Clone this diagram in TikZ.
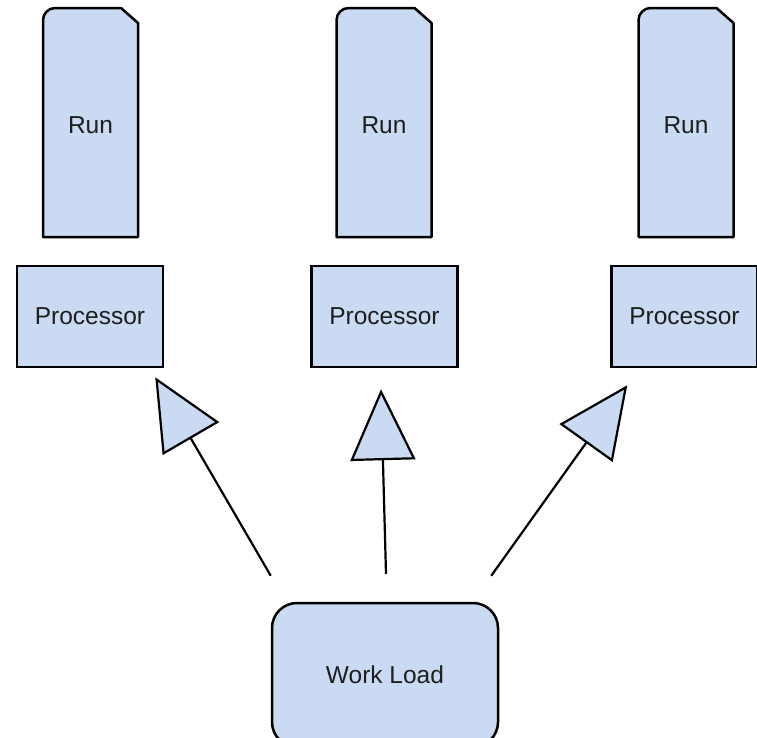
\documentclass[tikz,border=0pt]{standalone}
\usepackage{fontspec}
\setmainfont{Liberation Sans}
\usetikzlibrary{arrows.meta}
\definecolor{boxblue}{RGB}{201,218,242}
\definecolor{inkgray}{RGB}{30,30,30}

\begin{document}
\begin{tikzpicture}[x=1pt,y=-1pt,
    label font/.style={text=inkgray,font=\fontsize{24.5}{29}\selectfont},
    box/.style={shape=rectangle,draw=black,fill=boxblue,line width=2.5pt,inner sep=0pt,label font},
    procbox/.style={box,minimum width=146pt,minimum height=101pt},
    loadbox/.style={box,rounded corners=25pt,minimum width=226pt,minimum height=144pt},
    runline/.style={draw=black,fill=boxblue,line width=2.5pt,line join=round},
    runtext/.style={shape=rectangle,inner sep=0pt,label font},
    feed/.style={line width=2.2pt,arrows={-Triangle[length=71pt,width=65pt,fill=boxblue]}}]
    \path[use as bounding box,clip] (0,0) rectangle (757,737);
    % runs
    \foreach \x/\name in {90.5/r1,384/r2,686/r3}{
        \draw[runline] (\x-47.5,237) -- (\x-47.5,20)
            .. controls (\x-47.5,13.4) and (\x-41.9,8) .. (\x-35.5,8)
            -- (\x+30.5,8) -- (\x+47.5,23) -- (\x+47.5,237) -- cycle;
        \node[runtext] (\name) at (\x,125) {Run};
    }
    % processors
    \node[procbox] (p1) at (90,316.5) {Processor};
    \node[procbox] (p2) at (384.5,316.5) {Processor};
    \node[procbox] (p3) at (684.5,316.5) {Processor};
    \node[loadbox] (wl) at (385,675) {Work Load};
    \draw[feed] ([yshift=26pt]wl.north west) -- ([shift={(-9pt,-9pt)}]p1.south east);
    \draw[feed] ([shift={(1pt,28pt)}]wl.north) -- ([shift={(-3.5pt,-21pt)}]p2.south);
    \draw[feed] ([shift={(-8pt,26pt)}]wl.north east) -- ([shift={(17pt,-17pt)}]p3.south west);
\end{tikzpicture}
\end{document}
